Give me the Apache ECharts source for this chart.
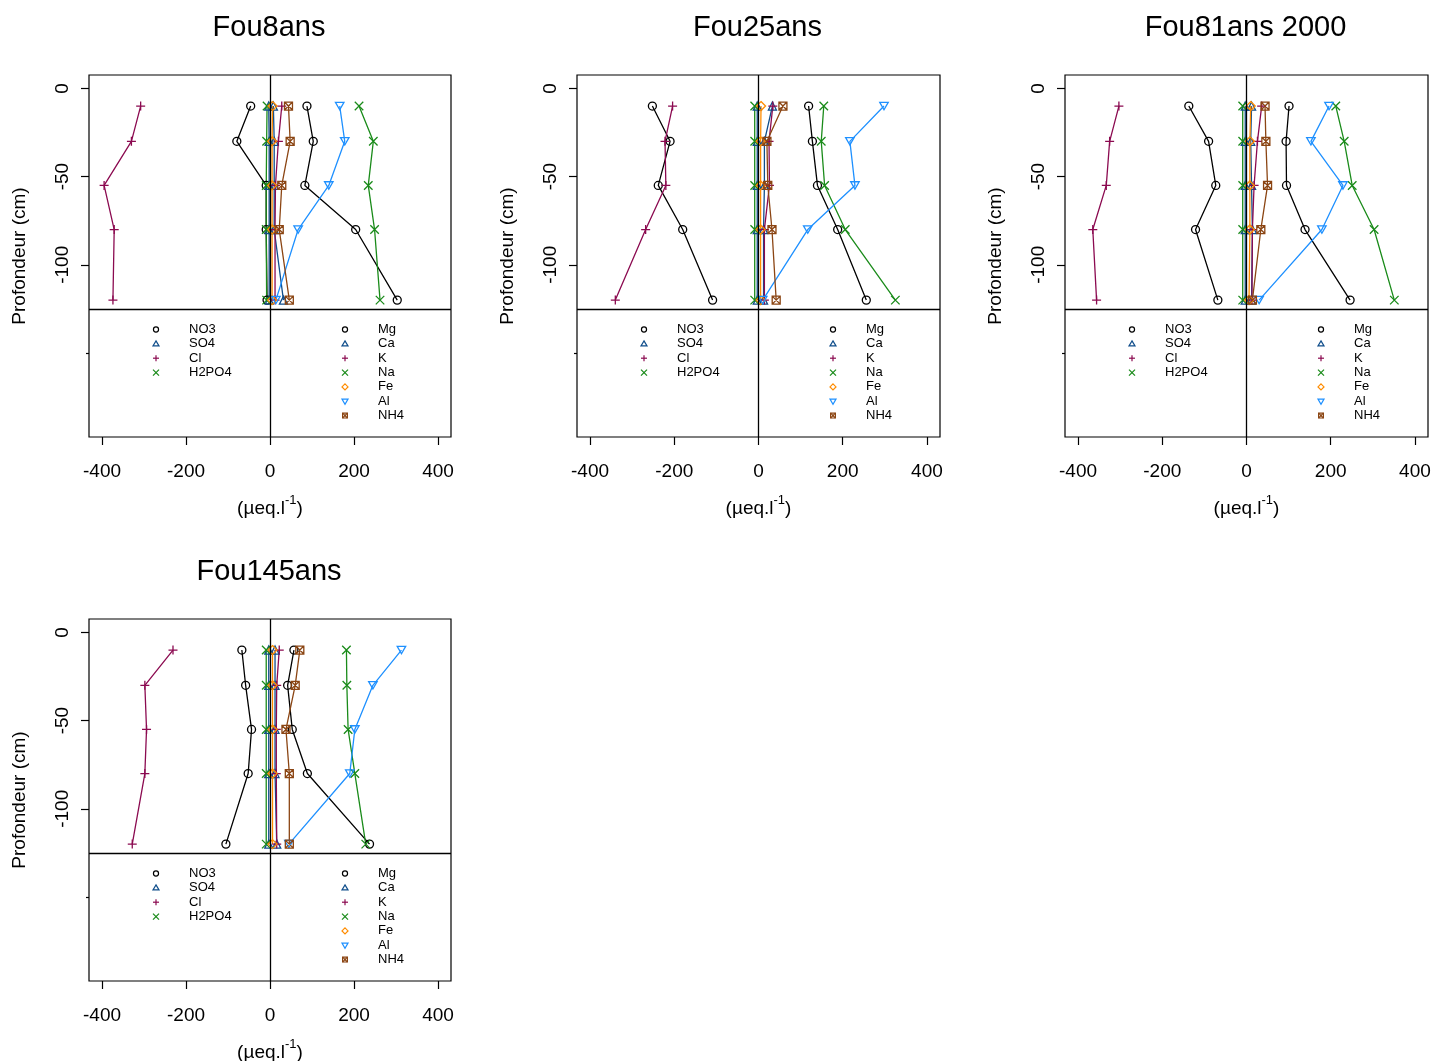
<!DOCTYPE html>
<html><head><meta charset="utf-8">
<script src="https://cdn.jsdelivr.net/npm/echarts@6/dist/echarts.min.js"></script>
<style>html,body{margin:0;padding:0;background:#fff}#c{width:1433px;height:1061px}</style>
</head><body><div id="c"></div>
<script>
// ---------------- data ----------------
const panelTitles = ['Fou8ans', 'Fou25ans', 'Fou81ans 2000', 'Fou145ans'];
const depths = [-10, -30, -55, -80, -120];
const xTicks = [-400, -200, 0, 200, 400];
const yTicks = [0, -50, -100];
const yMinorTicks = [-150];
const separatorDepth = -125;
const anionNames = ['NO3', 'SO4', 'Cl', 'H2PO4'];
const cationNames = ['Mg', 'Ca', 'K', 'Na', 'Fe', 'Al', 'NH4'];
// one row per panel (Fou8ans, Fou25ans, Fou81ans 2000, Fou145ans), values at each depth
const NO3   = [[-46, -79, -9, -9, -7], [-252, -210, -238, -180, -109], [-137, -90, -73, -121, -68], [-67, -58, -44, -52, -105]];
const SO4   = [[-3, -2, -2, -2, -2], [-3, -3, -3, -3, -3], [-3, -3, -3, -3, -3], [-3, -3, -3, -3, -3]];
const Cl    = [[-308, -330, -395, -371, -374], [-204, -222, -220, -268, -340], [-303, -325, -333, -365, -356], [-231, -298, -294, -298, -328]];
const H2PO4 = [[-7, -8, -9, -9, -8], [-9, -9, -9, -9, -9], [-9, -9, -9, -9, -9], [-9, -9, -9, -9, -9]];
const Mg    = [[88, 103, 83, 204, 303], [119, 128, 140, 188, 256], [101, 94, 95, 139, 246], [57, 42, 53, 89, 237]];
const Ca    = [[8, 10, 10, 10, 32], [33, 14, 14, 12, 12], [12, 10, 12, 14, 12], [12, 12, 12, 12, 16]];
const K     = [[28, 20, 13, 12, 12], [34, 25, 26, 14, 14], [36, 26, 18, 14, 13], [22, 16, 15, 15, 16]];
const Na    = [[212, 246, 234, 249, 262], [155, 149, 157, 206, 325], [212, 232, 251, 303, 351], [182, 183, 186, 202, 228]];
const Fe    = [[6, 5, 5, 5, 5], [6, 5, 5, 5, 5], [10, 8, 8, 8, 6], [6, 6, 6, 6, 6]];
const Al    = [[166, 178, 140, 67, 14], [298, 217, 229, 117, 10], [196, 153, 229, 179, 30], [313, 245, 202, 190, 45]];
const NH4   = [[44, 48, 28, 22, 46], [58, 20, 22, 32, 42], [44, 46, 50, 34, 14], [71, 60, 38, 46, 46]];

// ---------------- styles / layout ----------------
const FONT = '"Liberation Sans", Arial, Helvetica, sans-serif';
const PLUS = 'path://M5,0L5,10M0,5L10,5';
const CROSS = 'path://M0,0L10,10M10,0L0,10';
const INVTRI = 'path://M0,0L10,0L5,8.7Z';
const BOXX = 'path://M0,0L10,0L10,10L0,10ZM0,0L10,10M10,0L0,10';
const style = {
  NO3:   {color: '#000000', sym: 'circle', size: 8, leg: 'circle'},
  SO4:   {color: '#104E8B', sym: 'triangle', size: 8, leg: 'tri'},
  Cl:    {color: '#8B0A50', sym: PLUS, size: 9, leg: 'plus'},
  H2PO4: {color: '#1A8B1A', sym: CROSS, size: 8.5, leg: 'cross'},
  Mg:    {color: '#000000', sym: 'circle', size: 8, leg: 'circle'},
  Ca:    {color: '#104E8B', sym: 'triangle', size: 8, leg: 'tri'},
  K:     {color: '#8B0A50', sym: PLUS, size: 9, leg: 'plus'},
  Na:    {color: '#1A8B1A', sym: CROSS, size: 8.5, leg: 'cross'},
  Fe:    {color: '#FF8C00', sym: 'diamond', size: 9, leg: 'diamond'},
  Al:    {color: '#1E90FF', sym: INVTRI, size: 8.5, leg: 'invtri'},
  NH4:   {color: '#8B4513', sym: BOXX, size: 8, leg: 'boxx'}
};
const ionValues = {NO3, SO4, Cl, H2PO4, Mg, Ca, K, Na, Fe, Al, NH4};
const boxes = [
  {left: 89, top: 75, w: 362, h: 362},
  {left: 577, top: 75, w: 363, h: 362},
  {left: 1065, top: 75, w: 363, h: 362},
  {left: 89, top: 619, w: 362, h: 362}
];
const XMIN = -431, XMAX = 431, YMIN = -197.6, YMAX = 7.6;

const grid = [], xAxis = [], yAxis = [], series = [], graphic = [];

function legendSymbol(kind, cx, cy, r, color) {
  const st = {fill: 'none', stroke: color, lineWidth: 1.2};
  const L = (x1, y1, x2, y2) => ({type: 'line', silent: true, shape: {x1, y1, x2, y2}, style: st});
  switch (kind) {
    case 'circle': return [{type: 'circle', silent: true, shape: {cx, cy, r: r * 0.85}, style: st}];
    case 'tri': return [{type: 'polygon', silent: true, shape: {points: [[cx, cy - r], [cx + r, cy + r * 0.7], [cx - r, cy + r * 0.7]]}, style: st}];
    case 'invtri': return [{type: 'polygon', silent: true, shape: {points: [[cx - r, cy - r * 0.7], [cx + r, cy - r * 0.7], [cx, cy + r]]}, style: st}];
    case 'plus': return [L(cx - r, cy, cx + r, cy), L(cx, cy - r, cx, cy + r)];
    case 'cross': return [L(cx - r, cy - r, cx + r, cy + r), L(cx + r, cy - r, cx - r, cy + r)];
    case 'diamond': return [{type: 'polygon', silent: true, shape: {points: [[cx, cy - r], [cx + r, cy], [cx, cy + r], [cx - r, cy]]}, style: st}];
    case 'boxx': return [{type: 'rect', silent: true, shape: {x: cx - r * 0.8, y: cy - r * 0.8, width: r * 1.6, height: r * 1.6}, style: st},
      L(cx - r * 0.8, cy - r * 0.8, cx + r * 0.8, cy + r * 0.8), L(cx + r * 0.8, cy - r * 0.8, cx - r * 0.8, cy + r * 0.8)];
  }
  return [];
}
function txt(text, x, y, size, align, extra) {
  return Object.assign({type: 'text', silent: true, x, y, style: {
    text, fill: '#000', fontSize: size, fontFamily: FONT,
    align: align, verticalAlign: 'middle', textAlign: align, textVerticalAlign: 'middle'
  }}, extra || {});
}

boxes.forEach((b, i) => {
  grid.push({left: b.left, top: b.top, width: b.w, height: b.h, containLabel: false, outerBoundsMode: 'none',
    show: true, borderColor: '#000', borderWidth: 1.2, backgroundColor: 'transparent'});
  xAxis.push({gridIndex: i, type: 'value', min: XMIN, max: XMAX, position: 'bottom',
    axisLine: {show: false, onZero: false}, splitLine: {show: false},
    axisTick: {show: true, customValues: xTicks, length: 8, lineStyle: {color: '#000', width: 1.2}},
    axisLabel: {show: true, customValues: xTicks, color: '#000', fontSize: 19, fontFamily: FONT, margin: 25}});
  yAxis.push({gridIndex: i, type: 'value', min: YMIN, max: YMAX, position: 'left',
    axisLine: {show: false, onZero: false}, splitLine: {show: false},
    axisTick: {show: true, customValues: yTicks, length: 8, lineStyle: {color: '#000', width: 1.2}},
    axisLabel: {show: true, customValues: yTicks, rotate: 90, color: '#000', fontSize: 19, fontFamily: FONT, margin: 17}});
  yAxis.push({gridIndex: i, type: 'value', min: YMIN, max: YMAX, position: 'left',
    axisLine: {show: false, onZero: false}, splitLine: {show: false},
    axisTick: {show: true, customValues: yMinorTicks, length: 3, lineStyle: {color: '#000', width: 1.2}},
    axisLabel: {show: false}});

  // reference lines (x = 0 and separator depth)
  series.push({type: 'line', xAxisIndex: i, yAxisIndex: 2 * i, data: [], silent: true, z: 5,
    markLine: {silent: true, symbol: 'none', label: {show: false}, animation: false,
      lineStyle: {color: '#000', width: 1.3, type: 'solid'},
      emphasis: {disabled: true},
      data: [{xAxis: 0}, {yAxis: separatorDepth}]}});

  anionNames.concat(cationNames).forEach(name => {
    const s = style[name];
    const vals = ionValues[name][i];
    series.push({
      type: 'line', name: name + '_' + i, xAxisIndex: i, yAxisIndex: 2 * i,
      data: vals.map((v, k) => [v, depths[k]]),
      symbol: s.sym, symbolSize: s.size, symbolKeepAspect: true, showSymbol: true, showAllSymbol: true,
      clip: false, z: 3,
      lineStyle: {color: s.color, width: 1.3},
      itemStyle: {color: 'none', borderColor: s.color, borderWidth: 1.3},
      emphasis: {disabled: true}
    });
  });

  const cx = b.left + b.w / 2;
  graphic.push(txt(panelTitles[i], cx - 1, b.top - 47, 29, 'center'));
  graphic.push(txt('Profondeur (cm)', b.left - 69, b.top + b.h / 2, 19, 'center', {rotation: Math.PI / 2}));
  graphic.push({type: 'text', silent: true, x: cx, y: b.top + b.h + 69, style: {
    text: '{a|(µeq.l}{s|-1}{a|)}', fill: '#000', fontFamily: FONT, fontSize: 19,
    align: 'center', verticalAlign: 'middle', textAlign: 'center', textVerticalAlign: 'middle',
    rich: {a: {fontSize: 19, fontFamily: FONT, fill: '#000', lineHeight: 24, verticalAlign: 'bottom'},
           s: {fontSize: 13, fontFamily: FONT, fill: '#000', verticalAlign: 'top', lineHeight: 24}}
  }});
  // legends
  anionNames.forEach((name, k) => {
    const y = b.top + 254.5 + k * 14.35;
    legendSymbol(style[name].leg, b.left + 67, y, 3, style[name].color).forEach(e => graphic.push(e));
    graphic.push(txt(name, b.left + 100, y, 13, 'left'));
  });
  cationNames.forEach((name, k) => {
    const y = b.top + 254.5 + k * 14.35;
    legendSymbol(style[name].leg, b.left + 256, y, 3, style[name].color).forEach(e => graphic.push(e));
    graphic.push(txt(name, b.left + 289, y, 13, 'left'));
  });
});

const chart = echarts.init(document.getElementById('c'), null, {renderer: 'canvas'});
chart.setOption({
  animation: false,
  backgroundColor: '#fff',
  textStyle: {fontFamily: FONT},
  grid, xAxis, yAxis, series, graphic
});
</script></body></html>
